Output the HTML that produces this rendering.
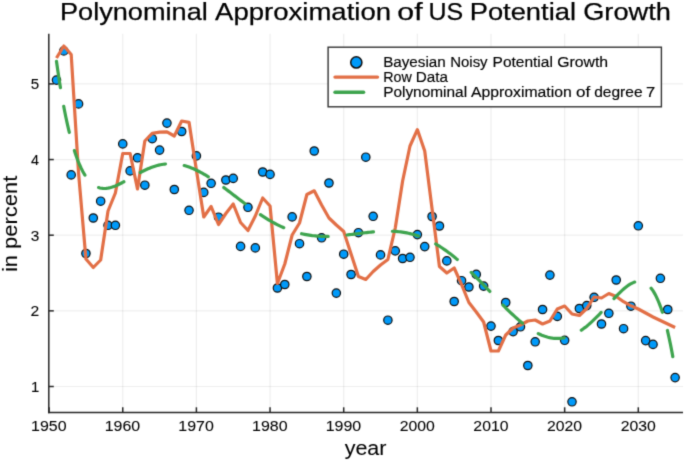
<!DOCTYPE html>
<html><head><meta charset="utf-8"><style>
html,body{margin:0;padding:0;background:#fff;overflow:hidden}
svg{display:block}
text{font-family:"Liberation Sans", sans-serif;fill:#000;stroke:#000;stroke-width:inherit}
svg{stroke-width:0.08px}
</style></head><body>
<svg width="685" height="461" viewBox="0 0 685 461">
<defs><filter id="bl" x="0" y="0" width="685" height="461" filterUnits="userSpaceOnUse" color-interpolation-filters="sRGB"><feConvolveMatrix order="3" kernelMatrix="0.01917 0.10012 0.01917 0.10012 0.52283 0.10012 0.01917 0.10012 0.01917" edgeMode="duplicate"/></filter></defs>
<g filter="url(#bl)">
<rect width="685" height="461" fill="#fff"/>
<g stroke="#000" stroke-opacity="0.065" stroke-width="1.2">
<line x1="122.75" y1="33.8" x2="122.75" y2="412.5"/>
<line x1="196.4" y1="33.8" x2="196.4" y2="412.5"/>
<line x1="270.05" y1="33.8" x2="270.05" y2="412.5"/>
<line x1="343.7" y1="33.8" x2="343.7" y2="412.5"/>
<line x1="417.35" y1="33.8" x2="417.35" y2="412.5"/>
<line x1="491" y1="33.8" x2="491" y2="412.5"/>
<line x1="564.65" y1="33.8" x2="564.65" y2="412.5"/>
<line x1="638.3" y1="33.8" x2="638.3" y2="412.5"/>
<line x1="48.8" y1="386.5" x2="683" y2="386.5"/>
<line x1="48.8" y1="310.85" x2="683" y2="310.85"/>
<line x1="48.8" y1="235.2" x2="683" y2="235.2"/>
<line x1="48.8" y1="159.55" x2="683" y2="159.55"/>
<line x1="48.8" y1="83.9" x2="683" y2="83.9"/>
</g>
<g stroke="#262626" stroke-width="1.5" fill="none">
<line x1="48.8" y1="33.8" x2="48.8" y2="413.2"/>
<line x1="48.1" y1="412.5" x2="683" y2="412.5"/>
<line x1="49.1" y1="412.5" x2="49.1" y2="407.3"/>
<line x1="122.75" y1="412.5" x2="122.75" y2="407.3"/>
<line x1="196.4" y1="412.5" x2="196.4" y2="407.3"/>
<line x1="270.05" y1="412.5" x2="270.05" y2="407.3"/>
<line x1="343.7" y1="412.5" x2="343.7" y2="407.3"/>
<line x1="417.35" y1="412.5" x2="417.35" y2="407.3"/>
<line x1="491" y1="412.5" x2="491" y2="407.3"/>
<line x1="564.65" y1="412.5" x2="564.65" y2="407.3"/>
<line x1="638.3" y1="412.5" x2="638.3" y2="407.3"/>
<line x1="48.8" y1="386.5" x2="53.8" y2="386.5"/>
<line x1="48.8" y1="310.85" x2="53.8" y2="310.85"/>
<line x1="48.8" y1="235.2" x2="53.8" y2="235.2"/>
<line x1="48.8" y1="159.55" x2="53.8" y2="159.55"/>
<line x1="48.8" y1="83.9" x2="53.8" y2="83.9"/>
</g>
<g fill="#009afa" stroke="#111" stroke-width="1.2">
<circle cx="56.47" cy="80.1" r="4.2"/>
<circle cx="63.83" cy="50.9" r="4.2"/>
<circle cx="71.19" cy="174.9" r="4.2"/>
<circle cx="78.56" cy="103.9" r="4.2"/>
<circle cx="85.93" cy="253.5" r="4.2"/>
<circle cx="93.29" cy="218" r="4.2"/>
<circle cx="100.66" cy="201.2" r="4.2"/>
<circle cx="108.02" cy="225.3" r="4.2"/>
<circle cx="115.38" cy="225.3" r="4.2"/>
<circle cx="122.75" cy="143.9" r="4.2"/>
<circle cx="130.12" cy="170.9" r="4.2"/>
<circle cx="137.48" cy="157.8" r="4.2"/>
<circle cx="144.84" cy="185.2" r="4.2"/>
<circle cx="152.21" cy="138.7" r="4.2"/>
<circle cx="159.58" cy="150.1" r="4.2"/>
<circle cx="166.94" cy="123.1" r="4.2"/>
<circle cx="174.31" cy="189.5" r="4.2"/>
<circle cx="181.67" cy="131.5" r="4.2"/>
<circle cx="189.03" cy="210.3" r="4.2"/>
<circle cx="196.4" cy="155.9" r="4.2"/>
<circle cx="203.76" cy="192.4" r="4.2"/>
<circle cx="211.13" cy="183.3" r="4.2"/>
<circle cx="218.5" cy="217.2" r="4.2"/>
<circle cx="225.86" cy="180" r="4.2"/>
<circle cx="233.22" cy="178.4" r="4.2"/>
<circle cx="240.59" cy="246.4" r="4.2"/>
<circle cx="247.96" cy="207.3" r="4.2"/>
<circle cx="255.32" cy="247.9" r="4.2"/>
<circle cx="262.69" cy="172" r="4.2"/>
<circle cx="270.05" cy="174.4" r="4.2"/>
<circle cx="277.42" cy="288" r="4.2"/>
<circle cx="284.78" cy="284.5" r="4.2"/>
<circle cx="292.15" cy="216.9" r="4.2"/>
<circle cx="299.51" cy="243.7" r="4.2"/>
<circle cx="306.88" cy="276.5" r="4.2"/>
<circle cx="314.24" cy="151" r="4.2"/>
<circle cx="321.61" cy="237.8" r="4.2"/>
<circle cx="328.97" cy="183" r="4.2"/>
<circle cx="336.34" cy="293.1" r="4.2"/>
<circle cx="343.7" cy="254.2" r="4.2"/>
<circle cx="351.07" cy="274.5" r="4.2"/>
<circle cx="358.43" cy="232.7" r="4.2"/>
<circle cx="365.8" cy="157.2" r="4.2"/>
<circle cx="373.16" cy="216.3" r="4.2"/>
<circle cx="380.53" cy="254.9" r="4.2"/>
<circle cx="387.89" cy="320.2" r="4.2"/>
<circle cx="395.26" cy="250.9" r="4.2"/>
<circle cx="402.62" cy="258.5" r="4.2"/>
<circle cx="409.99" cy="257.3" r="4.2"/>
<circle cx="417.35" cy="234.6" r="4.2"/>
<circle cx="424.72" cy="246.6" r="4.2"/>
<circle cx="432.08" cy="216.5" r="4.2"/>
<circle cx="439.45" cy="226" r="4.2"/>
<circle cx="446.81" cy="260.9" r="4.2"/>
<circle cx="454.18" cy="301.5" r="4.2"/>
<circle cx="461.54" cy="280.7" r="4.2"/>
<circle cx="468.91" cy="287" r="4.2"/>
<circle cx="476.27" cy="274.4" r="4.2"/>
<circle cx="483.64" cy="286.1" r="4.2"/>
<circle cx="491" cy="326.1" r="4.2"/>
<circle cx="498.37" cy="340.5" r="4.2"/>
<circle cx="505.73" cy="302.5" r="4.2"/>
<circle cx="513.1" cy="331.6" r="4.2"/>
<circle cx="520.46" cy="326.8" r="4.2"/>
<circle cx="527.83" cy="365.5" r="4.2"/>
<circle cx="535.19" cy="341.8" r="4.2"/>
<circle cx="542.56" cy="309.5" r="4.2"/>
<circle cx="549.92" cy="275.1" r="4.2"/>
<circle cx="557.28" cy="316.4" r="4.2"/>
<circle cx="564.65" cy="340.3" r="4.2"/>
<circle cx="572.01" cy="401.8" r="4.2"/>
<circle cx="579.38" cy="308.5" r="4.2"/>
<circle cx="586.75" cy="305.6" r="4.2"/>
<circle cx="594.11" cy="297.3" r="4.2"/>
<circle cx="601.48" cy="324" r="4.2"/>
<circle cx="608.84" cy="313.3" r="4.2"/>
<circle cx="616.21" cy="280" r="4.2"/>
<circle cx="623.57" cy="328.7" r="4.2"/>
<circle cx="630.94" cy="306.2" r="4.2"/>
<circle cx="638.3" cy="225.8" r="4.2"/>
<circle cx="645.67" cy="340.6" r="4.2"/>
<circle cx="653.03" cy="344.4" r="4.2"/>
<circle cx="660.4" cy="278.3" r="4.2"/>
<circle cx="667.76" cy="309.5" r="4.2"/>
<circle cx="675.12" cy="377.6" r="4.2"/>
</g>
<path d="M56.47,58 L63.83,46 L71.19,54.5 L78.56,173 L85.93,259 L93.29,267.5 L100.66,260 L108.02,211 L115.38,193 L122.75,153.5 L130.12,153.5 L137.48,189 L144.84,141 L152.21,133.3 L159.58,132.2 L166.94,131.8 L174.31,136 L181.67,121 L189.03,122.3 L196.4,170 L203.76,217 L211.13,206.5 L218.5,224.5 L225.86,213.5 L233.22,204 L240.59,222.5 L247.96,230.5 L255.32,216 L262.69,198 L270.05,206 L277.42,283.5 L284.78,264 L292.15,235 L299.51,223 L306.88,194.5 L314.24,190.8 L321.61,205 L328.97,218 L336.34,225 L343.7,231.5 L351.07,254 L358.43,276.5 L365.8,279.5 L373.16,271.5 L380.53,265 L387.89,259.5 L395.26,228 L402.62,181 L409.99,146 L417.35,129.6 L424.72,151 L432.08,209 L439.45,266.5 L446.81,273 L454.18,268 L461.54,284.5 L468.91,302.5 L476.27,312 L483.64,322 L491,351 L498.37,351 L505.73,335 L513.1,328 L520.46,325 L527.83,321 L535.19,320 L542.56,324 L549.92,321 L557.28,309 L564.65,306 L572.01,314 L579.38,315.5 L586.75,308.5 L594.11,297 L601.48,298 L608.84,293.5 L616.21,296.5 L623.57,301.7 L630.94,305.8 L638.3,309 L645.67,313 L653.03,317 L660.4,320.5 L667.76,324 L675.12,327.5" fill="none" stroke="#e26f46" stroke-width="3.2" stroke-linejoin="round" stroke-linecap="butt"/>
<path d="M56.47,61.28 L58.02,72.09 L59.57,82.23 L61.12,91.74 L62.67,100.63 L64.22,108.94 L65.77,116.69 L67.32,123.9 L68.87,130.6 L70.42,136.82 L71.97,142.56 L73.52,147.86 L75.07,152.74 L76.62,157.21 L78.17,161.3 L79.72,165.02 L81.27,168.4 L82.82,171.45 L84.37,174.19 L85.92,176.64 L87.48,178.81 L89.03,180.71 L90.58,182.37 L92.13,183.8 L93.68,185.01 L95.23,186.02 L96.78,186.84 L98.33,187.48 L99.88,187.95 L101.43,188.27 L102.98,188.44 L104.53,188.49 L106.08,188.41 L107.63,188.22 L109.18,187.93 L110.73,187.55 L112.28,187.09 L113.83,186.55 L115.38,185.94 L116.94,185.28 L118.49,184.56 L120.04,183.8 L121.59,183 L123.14,182.17 L124.69,181.32 L126.24,180.44 L127.79,179.56 L129.34,178.66 L130.89,177.76 L132.44,176.87 L133.99,175.97 L135.54,175.09 L137.09,174.22 L138.64,173.37 L140.19,172.54 L141.74,171.73 L143.29,170.95 L144.84,170.2 L146.4,169.49 L147.95,168.8 L149.5,168.16 L151.05,167.55 L152.6,166.98 L154.15,166.45 L155.7,165.97 L157.25,165.53 L158.8,165.14 L160.35,164.79 L161.9,164.49 L163.45,164.24 L165,164.04 L166.55,163.88 L168.1,163.78 L169.65,163.72 L171.2,163.72 L172.75,163.76 L174.31,163.85 L175.86,163.99 L177.41,164.18 L178.96,164.42 L180.51,164.7 L182.06,165.03 L183.61,165.41 L185.16,165.83 L186.71,166.3 L188.26,166.81 L189.81,167.36 L191.36,167.95 L192.91,168.58 L194.46,169.25 L196.01,169.96 L197.56,170.71 L199.11,171.49 L200.66,172.3 L202.21,173.15 L203.76,174.03 L205.32,174.94 L206.87,175.87 L208.42,176.84 L209.97,177.83 L211.52,178.84 L213.07,179.87 L214.62,180.93 L216.17,182.01 L217.72,183.1 L219.27,184.21 L220.82,185.33 L222.37,186.47 L223.92,187.62 L225.47,188.78 L227.02,189.95 L228.57,191.13 L230.12,192.31 L231.67,193.5 L233.22,194.69 L234.78,195.88 L236.33,197.07 L237.88,198.27 L239.43,199.45 L240.98,200.64 L242.53,201.82 L244.08,202.99 L245.63,204.16 L247.18,205.32 L248.73,206.47 L250.28,207.6 L251.83,208.73 L253.38,209.84 L254.93,210.94 L256.48,212.02 L258.03,213.08 L259.58,214.13 L261.13,215.16 L262.68,216.17 L264.24,217.16 L265.79,218.14 L267.34,219.09 L268.89,220.01 L270.44,220.92 L271.99,221.8 L273.54,222.66 L275.09,223.49 L276.64,224.3 L278.19,225.09 L279.74,225.85 L281.29,226.58 L282.84,227.29 L284.39,227.97 L285.94,228.62 L287.49,229.25 L289.04,229.84 L290.59,230.42 L292.14,230.96 L293.7,231.48 L295.25,231.97 L296.8,232.43 L298.35,232.87 L299.9,233.27 L301.45,233.66 L303,234.01 L304.55,234.34 L306.1,234.64 L307.65,234.92 L309.2,235.17 L310.75,235.39 L312.3,235.6 L313.85,235.77 L315.4,235.93 L316.95,236.06 L318.5,236.17 L320.05,236.25 L321.61,236.32 L323.16,236.36 L324.71,236.38 L326.26,236.39 L327.81,236.38 L329.36,236.34 L330.91,236.3 L332.46,236.23 L334.01,236.15 L335.56,236.06 L337.11,235.95 L338.66,235.83 L340.21,235.69 L341.76,235.55 L343.31,235.39 L344.86,235.23 L346.41,235.06 L347.96,234.88 L349.51,234.7 L351.06,234.51 L352.62,234.32 L354.17,234.12 L355.72,233.92 L357.27,233.72 L358.82,233.52 L360.37,233.32 L361.92,233.13 L363.47,232.94 L365.02,232.75 L366.57,232.56 L368.12,232.39 L369.67,232.22 L371.22,232.06 L372.77,231.9 L374.32,231.76 L375.87,231.63 L377.42,231.52 L378.97,231.41 L380.52,231.32 L382.08,231.25 L383.63,231.19 L385.18,231.15 L386.73,231.13 L388.28,231.13 L389.83,231.15 L391.38,231.19 L392.93,231.25 L394.48,231.33 L396.03,231.44 L397.58,231.57 L399.13,231.72 L400.68,231.9 L402.23,232.11 L403.78,232.35 L405.33,232.61 L406.88,232.9 L408.43,233.22 L409.99,233.57 L411.54,233.94 L413.09,234.35 L414.64,234.79 L416.19,235.26 L417.74,235.77 L419.29,236.3 L420.84,236.87 L422.39,237.47 L423.94,238.1 L425.49,238.76 L427.04,239.46 L428.59,240.19 L430.14,240.95 L431.69,241.75 L433.24,242.58 L434.79,243.45 L436.34,244.34 L437.89,245.27 L439.44,246.23 L441,247.23 L442.55,248.25 L444.1,249.31 L445.65,250.4 L447.2,251.52 L448.75,252.67 L450.3,253.85 L451.85,255.06 L453.4,256.3 L454.95,257.57 L456.5,258.86 L458.05,260.18 L459.6,261.53 L461.15,262.9 L462.7,264.3 L464.25,265.72 L465.8,267.16 L467.35,268.62 L468.9,270.1 L470.46,271.6 L472.01,273.12 L473.56,274.66 L475.11,276.21 L476.66,277.78 L478.21,279.36 L479.76,280.95 L481.31,282.55 L482.86,284.15 L484.41,285.77 L485.96,287.39 L487.51,289.02 L489.06,290.65 L490.61,292.28 L492.16,293.91 L493.71,295.54 L495.26,297.16 L496.81,298.78 L498.37,300.39 L499.92,301.99 L501.47,303.58 L503.02,305.16 L504.57,306.72 L506.12,308.27 L507.67,309.8 L509.22,311.31 L510.77,312.8 L512.32,314.26 L513.87,315.7 L515.42,317.11 L516.97,318.49 L518.52,319.84 L520.07,321.16 L521.62,322.45 L523.17,323.69 L524.72,324.9 L526.27,326.07 L527.82,327.19 L529.38,328.28 L530.93,329.31 L532.48,330.3 L534.03,331.24 L535.58,332.13 L537.13,332.97 L538.68,333.76 L540.23,334.48 L541.78,335.16 L543.33,335.77 L544.88,336.32 L546.43,336.82 L547.98,337.25 L549.53,337.62 L551.08,337.92 L552.63,338.16 L554.18,338.33 L555.73,338.44 L557.28,338.47 L558.84,338.44 L560.39,338.34 L561.94,338.17 L563.49,337.93 L565.04,337.62 L566.59,337.25 L568.14,336.8 L569.69,336.28 L571.24,335.69 L572.79,335.03 L574.34,334.3 L575.89,333.51 L577.44,332.65 L578.99,331.72 L580.54,330.73 L582.09,329.68 L583.64,328.56 L585.19,327.39 L586.75,326.15 L588.3,324.86 L589.85,323.52 L591.4,322.13 L592.95,320.69 L594.5,319.21 L596.05,317.69 L597.6,316.13 L599.15,314.53 L600.7,312.91 L602.25,311.26 L603.8,309.59 L605.35,307.91 L606.9,306.21 L608.45,304.52 L610,302.82 L611.55,301.13 L613.1,299.46 L614.65,297.8 L616.2,296.18 L617.76,294.59 L619.31,293.04 L620.86,291.55 L622.41,290.12 L623.96,288.76 L625.51,287.47 L627.06,286.28 L628.61,285.18 L630.16,284.2 L631.71,283.34 L633.26,282.61 L634.81,282.03 L636.36,281.6 L637.91,281.35 L639.46,281.28 L641.01,281.41 L642.56,281.75 L644.11,282.32 L645.66,283.14 L647.22,284.21 L648.77,285.57 L650.32,287.21 L651.87,289.17 L653.42,291.46 L654.97,294.1 L656.52,297.12 L658.07,300.52 L659.62,304.33 L661.17,308.57 L662.72,313.27 L664.27,318.45 L665.82,324.14 L667.37,330.34 L668.92,337.1 L670.47,344.44 L672.02,352.39 L673.57,360.96 L675.12,370.2" fill="none" stroke="#3ea44e" stroke-width="3.2" stroke-linecap="round" stroke-dasharray="26.7 18.9" stroke-dashoffset="0"/>
<text x="31.09" y="431.2" font-size="15.5" textLength="35.48" lengthAdjust="spacingAndGlyphs">1950</text>
<text x="104.74" y="431.2" font-size="15.5" textLength="35.48" lengthAdjust="spacingAndGlyphs">1960</text>
<text x="178.39" y="431.2" font-size="15.5" textLength="35.48" lengthAdjust="spacingAndGlyphs">1970</text>
<text x="252.04" y="431.2" font-size="15.5" textLength="35.48" lengthAdjust="spacingAndGlyphs">1980</text>
<text x="325.69" y="431.2" font-size="15.5" textLength="35.48" lengthAdjust="spacingAndGlyphs">1990</text>
<text x="399.74" y="431.2" font-size="15.5" textLength="35.08" lengthAdjust="spacingAndGlyphs">2000</text>
<text x="473.39" y="431.2" font-size="15.5" textLength="35.08" lengthAdjust="spacingAndGlyphs">2010</text>
<text x="547.04" y="431.2" font-size="15.5" textLength="35.08" lengthAdjust="spacingAndGlyphs">2020</text>
<text x="620.69" y="431.2" font-size="15.5" textLength="35.08" lengthAdjust="spacingAndGlyphs">2030</text>
<text x="30.92" y="391.80" font-size="15.5" textLength="8.31" lengthAdjust="spacingAndGlyphs">1</text>
<text x="30.54" y="316.15" font-size="15.5" textLength="8.72" lengthAdjust="spacingAndGlyphs">2</text>
<text x="30.68" y="240.50" font-size="15.5" textLength="8.57" lengthAdjust="spacingAndGlyphs">3</text>
<text x="30.95" y="164.85" font-size="15.5" textLength="8.01" lengthAdjust="spacingAndGlyphs">4</text>
<text x="30.69" y="89.20" font-size="15.5" textLength="8.42" lengthAdjust="spacingAndGlyphs">5</text>
<g style="stroke-width:0.25px"><text x="60.01" y="19.5" font-size="24.8" textLength="147.75" lengthAdjust="spacingAndGlyphs">Polynominal</text>
<text x="215.06" y="19.5" font-size="24.8" textLength="176.06" lengthAdjust="spacingAndGlyphs">Approximation</text>
<text x="397.38" y="19.5" font-size="24.8" textLength="25.24" lengthAdjust="spacingAndGlyphs">of</text>
<text x="428.51" y="19.5" font-size="24.8" textLength="34.70" lengthAdjust="spacingAndGlyphs">US</text>
<text x="469.70" y="19.5" font-size="24.8" textLength="106.29" lengthAdjust="spacingAndGlyphs">Potential</text>
<text x="583.23" y="19.5" font-size="24.8" textLength="87.62" lengthAdjust="spacingAndGlyphs">Growth</text></g>
<text x="344.67" y="454.8" font-size="20.5" textLength="41.84" lengthAdjust="spacingAndGlyphs">year</text>
<text transform="translate(16.7,0) rotate(-90)" x="-272.07" y="0" font-size="20.5" textLength="96.34" lengthAdjust="spacingAndGlyphs">in percent</text>
<rect x="328.1" y="47.2" width="333.3" height="59.6" fill="#fff" stroke="#333" stroke-width="1.4"/>
<circle cx="356.3" cy="62.4" r="5.6" fill="#009afa" stroke="#111" stroke-width="1.5"/>
<line x1="335" y1="77.1" x2="377.5" y2="77.1" stroke="#e26f46" stroke-width="3.4" stroke-linecap="round"/>
<line x1="335" y1="92.3" x2="363.6" y2="92.3" stroke="#3ea44e" stroke-width="3.4" stroke-linecap="round"/>
<g style="stroke-width:0.15px"><text x="383.18" y="66.8" font-size="14.0" textLength="62.54" lengthAdjust="spacingAndGlyphs">Bayesian</text>
<text x="450.20" y="66.8" font-size="14.0" textLength="37.42" lengthAdjust="spacingAndGlyphs">Noisy</text>
<text x="492.55" y="66.8" font-size="14.0" textLength="60.34" lengthAdjust="spacingAndGlyphs">Potential</text>
<text x="557.15" y="66.8" font-size="14.0" textLength="50.93" lengthAdjust="spacingAndGlyphs">Growth</text>
<text x="383.25" y="82.0" font-size="14.0" textLength="28.56" lengthAdjust="spacingAndGlyphs">Row</text>
<text x="415.78" y="82.0" font-size="14.0" textLength="32.17" lengthAdjust="spacingAndGlyphs">Data</text>
<text x="383.16" y="97.1" font-size="14.0" textLength="83.92" lengthAdjust="spacingAndGlyphs">Polynominal</text>
<text x="470.96" y="97.1" font-size="14.0" textLength="100.73" lengthAdjust="spacingAndGlyphs">Approximation</text>
<text x="576.14" y="97.1" font-size="14.0" textLength="14.18" lengthAdjust="spacingAndGlyphs">of</text>
<text x="594.21" y="97.1" font-size="14.0" textLength="48.35" lengthAdjust="spacingAndGlyphs">degree</text>
<text x="646.01" y="97.1" font-size="14.0" textLength="9.30" lengthAdjust="spacingAndGlyphs">7</text></g>
</g>
</svg>
</body></html>
